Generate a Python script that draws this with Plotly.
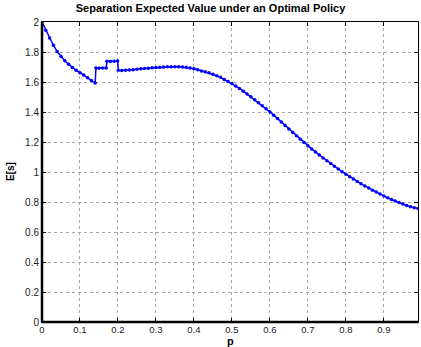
import plotly.graph_objects as go

p_values = [0.00, 0.01, 0.02, 0.03, 0.04, 0.05, 0.06, 0.07, 0.08, 0.09,
            0.10, 0.11, 0.12, 0.13, 0.14, 0.142, 0.15, 0.16, 0.169, 0.171,
            0.18, 0.19, 0.199, 0.201, 0.21, 0.22, 0.23, 0.24, 0.25, 0.26,
            0.27, 0.28, 0.29, 0.30, 0.31, 0.32, 0.33, 0.34, 0.35, 0.36,
            0.37, 0.38, 0.39, 0.40, 0.41, 0.42, 0.43, 0.44, 0.45, 0.46,
            0.47, 0.48, 0.49, 0.50, 0.51, 0.52, 0.53, 0.54, 0.55, 0.56,
            0.57, 0.58, 0.59, 0.60, 0.61, 0.62, 0.63, 0.64, 0.65, 0.66,
            0.67, 0.68, 0.69, 0.70, 0.71, 0.72, 0.73, 0.74, 0.75, 0.76,
            0.77, 0.78, 0.79, 0.80, 0.81, 0.82, 0.83, 0.84, 0.85, 0.86,
            0.87, 0.88, 0.89, 0.90, 0.91, 0.92, 0.93, 0.94, 0.95, 0.96,
            0.97, 0.98, 0.99]

expected_s = [2.000, 1.945, 1.893, 1.845, 1.803, 1.770, 1.742, 1.718, 1.697, 1.678,
              1.662, 1.647, 1.628, 1.610, 1.593, 1.693, 1.692, 1.694, 1.693, 1.738,
              1.737, 1.739, 1.740, 1.678, 1.677, 1.678, 1.680, 1.682, 1.685, 1.688,
              1.690, 1.692, 1.695, 1.697, 1.699, 1.700, 1.701, 1.702, 1.702, 1.702,
              1.700, 1.698, 1.694, 1.689, 1.682, 1.674, 1.668, 1.662, 1.652, 1.642,
              1.631, 1.617, 1.604, 1.590, 1.574, 1.557, 1.539, 1.520, 1.501, 1.481,
              1.461, 1.441, 1.421, 1.401, 1.379, 1.356, 1.333, 1.310, 1.287, 1.264,
              1.241, 1.219, 1.197, 1.175, 1.154, 1.134, 1.114, 1.094, 1.075, 1.056,
              1.038, 1.020, 1.002, 0.985, 0.969, 0.953, 0.937, 0.922, 0.907, 0.893,
              0.879, 0.866, 0.853, 0.840, 0.828, 0.817, 0.806, 0.796, 0.786, 0.777,
              0.769, 0.762, 0.756]

x_ticks = [0, 0.1, 0.2, 0.3, 0.4, 0.5, 0.6, 0.7, 0.8, 0.9]
x_tick_labels = ["0", "0.1", "0.2", "0.3", "0.4", "0.5", "0.6", "0.7", "0.8", "0.9"]
y_ticks = [0, 0.2, 0.4, 0.6, 0.8, 1.0, 1.2, 1.4, 1.6, 1.8, 2.0]
y_tick_labels = ["0", "0.2", "0.4", "0.6", "0.8", "1", "1.2", "1.4", "1.6", "1.8", "2"]

title_text = "Separation Expected Value under an Optimal Policy"
x_label = "p"
y_label = "E[s]"

FONT = "Liberation Sans, Arial, Helvetica, sans-serif"

fig = go.Figure()
fig.add_trace(go.Scatter(
    x=p_values, y=expected_s, mode="lines+markers",
    line=dict(color="#0000ff", width=1.5),
    marker=dict(color="#0000ff", size=3.5, symbol="circle"),
    showlegend=False, hoverinfo="skip",
))

axis_common = dict(
    showgrid=True, gridcolor="#a8a8a8", griddash="dot", gridwidth=1,
    zeroline=False, showline=True, linecolor="black", linewidth=1,
    mirror="allticks", ticks="inside", ticklen=4, tickcolor="black",
    automargin=False,
)

fig.update_layout(
    width=421, height=347,
    margin=dict(l=42, r=3, t=22, b=25),
    paper_bgcolor="white", plot_bgcolor="white",
    xaxis=dict(range=[0, 0.99], tickvals=x_ticks, ticktext=x_tick_labels,
               tickfont=dict(family=FONT, size=9.5, color="#222222"),
               ticklabelstandoff=-1, **axis_common),
    yaxis=dict(range=[0, 2], tickvals=y_ticks, ticktext=y_tick_labels,
               tickfont=dict(family=FONT, size=10, color="#222222"), **axis_common),
    title=dict(text="<b>" + title_text + "</b>", x=0.5, xanchor="center",
               y=1, yanchor="top", yref="container", pad=dict(t=4),
               font=dict(family=FONT, size=11, color="black"),
               automargin=False),
    shapes=[
        dict(type="line", xref="paper", yref="paper", x0=0, x1=0, y0=0, y1=1,
             line=dict(color="black", width=2.5)),
        dict(type="line", xref="paper", yref="paper", x0=0, x1=1, y0=0, y1=0,
             line=dict(color="black", width=2.5)),
    ],
    annotations=[
        dict(text="<b>" + x_label + "</b>", xref="paper", yref="paper", x=0.5, y=0,
             yshift=-19, showarrow=False, xanchor="center", yanchor="middle",
             font=dict(family=FONT, size=11, color="black")),
        dict(text="<b>" + y_label + "</b>", xref="paper", yref="paper", x=0, y=0.5,
             xshift=-32, textangle=-90, showarrow=False, xanchor="center", yanchor="middle",
             font=dict(family=FONT, size=10, color="black")),
    ],
)

fig.write_html("out.html",
               config={"displayModeBar": False},
               post_script="document.body.style.margin='0';document.body.style.padding='0';")
